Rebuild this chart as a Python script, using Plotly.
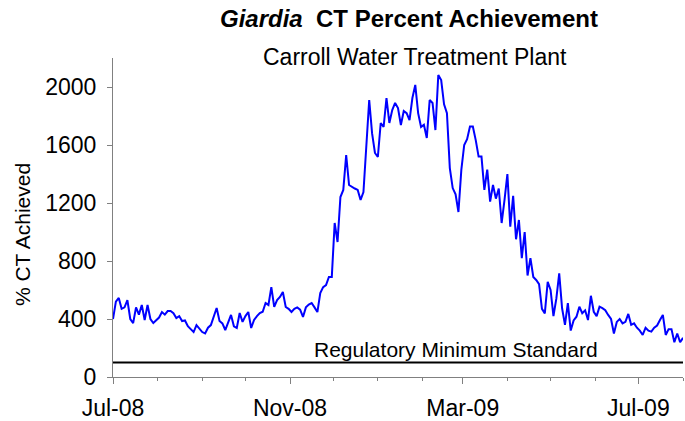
import pandas as pd
import plotly.graph_objects as go

# Readings every 2 days starting 1 Jul 2008, % CT achieved
start_date = "2008-07-01"
ct_values = [
    400, 520, 545, 470, 480, 530, 400, 372, 480, 430,
    497, 393, 497, 400, 372, 393, 410, 448, 430, 455,
    455, 440, 407, 420, 386, 390, 350, 330, 310, 358,
    330, 310, 300, 340, 358, 420, 476, 386, 370, 324,
    380, 428, 350, 338, 441, 380, 420, 448, 338, 393,
    420, 441, 450, 510, 497, 620, 483, 530, 552, 586,
    483, 470, 448, 470, 480, 465, 414, 480, 500, 510,
    480, 448, 579, 620, 634, 690, 690, 1062, 931, 1241,
    1290, 1531, 1324, 1310, 1300, 1290, 1221, 1276, 1566, 1910,
    1680, 1545, 1517, 1752, 1724, 1924, 1752, 1841, 1890, 1855,
    1738, 1834, 1820, 1772, 1924, 2014, 1820, 1724, 1740, 1648,
    1910, 1890, 1703, 2083, 2048, 1880, 1820, 1441, 1303, 1260,
    1138, 1428, 1600, 1640, 1727, 1727, 1634, 1520, 1520, 1290,
    1430, 1209, 1324, 1230, 1300, 1062, 1221, 1400, 1037, 1250,
    950, 1083, 820, 1000, 700, 820, 690, 669, 640, 470,
    439, 657, 600, 420, 540, 715, 474, 360, 510, 320,
    390, 416, 485, 440, 460, 393, 560, 450, 420, 485,
    475, 460, 428, 400, 300, 380, 400, 370, 380, 435,
    360, 370, 340, 320, 290, 340, 320, 313, 340, 355,
    393, 428, 290, 330, 330, 240, 300, 240, 270,
]
regulatory_minimum = 100
y_ticks = [0, 400, 800, 1200, 1600, 2000]

dates = pd.date_range(start_date, periods=len(ct_values), freq="2D")

FONT = "Arial, Liberation Sans, sans-serif"
GRAY = "#808080"

fig = go.Figure()
fig.add_trace(go.Scatter(
    x=dates, y=ct_values, mode="lines",
    line=dict(color="#0000FF", width=2),
    showlegend=False, hoverinfo="x+y",
))

fig.add_shape(type="line", xref="paper", yref="y",
              x0=0, x1=1, y0=regulatory_minimum, y1=regulatory_minimum,
              line=dict(color="black", width=2))

fig.add_annotation(text="Regulatory Minimum Standard", xref="paper", yref="y",
                   x=0.602, y=193, xanchor="center", yanchor="middle",
                   showarrow=False, font=dict(family=FONT, size=21, color="black"))

fig.add_annotation(text="<b><i>Giardia</i>  CT Percent Achievement</b>",
                   xref="paper", yref="paper", x=0.52, y=1.125,
                   xanchor="center", yanchor="middle", showarrow=False,
                   font=dict(family=FONT, size=24, color="black"))
fig.add_annotation(text="Carroll Water Treatment Plant",
                   xref="paper", yref="paper", x=0.53, y=1.003,
                   xanchor="center", yanchor="middle", showarrow=False,
                   font=dict(family=FONT, size=23, color="black"))
fig.add_annotation(text="% CT Achieved", xref="paper", yref="paper",
                   x=-0.1596, y=0.445, xanchor="center", yanchor="middle",
                   textangle=-90, showarrow=False,
                   font=dict(family=FONT, size=21, color="black"))

fig.update_layout(
    width=685, height=421,
    margin=dict(l=113, r=2, t=58, b=44, autoexpand=False),
    paper_bgcolor="white", plot_bgcolor="white",
    font=dict(family=FONT, size=23, color="black"),
)
fig.update_xaxes(
    type="date", automargin=False,
    range=["2008-07-01", "2009-08-01"],
    tick0="2008-07-01", dtick="M4", tickformat="%b-%y",
    ticks="outside", ticklen=6, tickcolor=GRAY, tickwidth=1,
    minor=dict(dtick="M1", ticks="outside", ticklen=3, tickcolor=GRAY, showgrid=False),
    showline=True, linecolor=GRAY, linewidth=1,
    showgrid=False, zeroline=False,
    tickfont=dict(family=FONT, size=23, color="black"),
    ticklabelstandoff=4,
)
fig.update_yaxes(
    automargin=False,
    range=[0, 2200],
    tickvals=y_ticks,
    ticks="outside", ticklen=5, tickcolor=GRAY, tickwidth=1,
    showline=True, linecolor=GRAY, linewidth=1,
    showgrid=False, zeroline=False,
    tickfont=dict(family=FONT, size=23, color="black"),
    ticklabelstandoff=6,
)

# remove the default page margin so the 685x421 figure fills the window exactly
fig.write_html("out.html",
               config={"displayModeBar": False},
               post_script="document.body.style.margin='0';document.body.style.overflow='hidden';")
